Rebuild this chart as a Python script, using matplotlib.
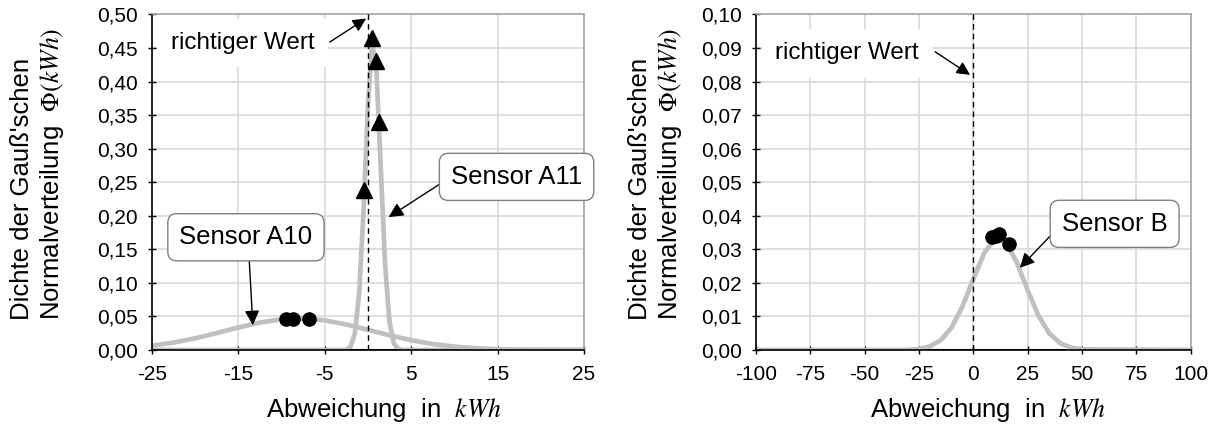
import matplotlib
matplotlib.use('Agg')
import matplotlib.pyplot as plt
from matplotlib.ticker import FuncFormatter

plt.rcParams['font.family'] = ['Liberation Sans', 'DejaVu Sans']
plt.rcParams['mathtext.fontset'] = 'stix'

# --- data ---
# Sensor A10 (left), density curve
a10_x = [-25, -22.5, -20, -17.5, -15, -12.5, -10, -7.5, -5, -2.5, 0, 2.5, 5, 7.5, 10, 12.5, 15, 17.5, 20, 25]
a10_y = [0.0064, 0.0110, 0.0173, 0.0252, 0.0335, 0.0409, 0.0457, 0.0469, 0.0442, 0.0381, 0.0302, 0.0219,
         0.0146, 0.0089, 0.0050, 0.0026, 0.0012, 0.0005, 0.0002, 0.0]
a10_pts_x = [-9.5, -8.6, -6.8]
a10_pts_y = [0.046, 0.046, 0.046]

# Sensor A11 (left), density curve
a11_x = [-25, -2.5, -2, -1.5, -1, -0.5, 0, 0.5, 1, 1.5, 2, 2.5, 3, 3.5, 4, 25]
a11_y = [0.0, 0.0, 0.005, 0.025, 0.085, 0.207, 0.363, 0.457, 0.414, 0.269, 0.126, 0.042, 0.010, 0.002, 0.0, 0.0]
a11_pts_x = [-0.4, 0.5, 0.9, 1.3]
a11_pts_y = [0.238, 0.465, 0.430, 0.340]
a11_range = [-1.9, 3.1]

# Sensor B (right), density curve
b_x = [-100, -30, -25, -20, -15, -10, -5, 0, 5, 10, 15, 20, 25, 30, 35, 40, 45, 50, 100]
b_y = [0.0, 0.0, 0.0003, 0.0011, 0.0029, 0.0067, 0.0130, 0.0212, 0.0289, 0.0332, 0.0321, 0.0261, 0.0178,
       0.0102, 0.0049, 0.0020, 0.0007, 0.0002, 0.0]
b_pts_x = [8.5, 10.2, 12.0, 16.2]
b_pts_y = [0.0336, 0.0341, 0.0346, 0.0316]
b_range = [-20, 42]

left_xticks = [-25, -15, -5, 5, 15, 25]
left_yticks = [0.0, 0.05, 0.10, 0.15, 0.20, 0.25, 0.30, 0.35, 0.40, 0.45, 0.50]
right_xticks = [-100, -75, -50, -25, 0, 25, 50, 75, 100]
right_yticks = [0.0, 0.01, 0.02, 0.03, 0.04, 0.05, 0.06, 0.07, 0.08, 0.09, 0.10]

curve_col = '#c0c0c0'
grid_col = '#d9d9d9'
frame_col = '#a6a6a6'

fig = plt.figure(figsize=(12.14, 4.36), dpi=100)
ax1 = fig.add_axes([151.7 / 1214, 86 / 436, 432.3 / 1214, 335.5 / 436])
ax2 = fig.add_axes([756 / 1214, 86 / 436, 434.7 / 1214, 335.5 / 436])

comma = FuncFormatter(lambda v, p: ('%.2f' % v).replace('.', ','))
box_style = dict(boxstyle='round,pad=0.45,rounding_size=0.35', fc='white', ec='#808080', lw=1)
arrow_style = dict(arrowstyle='-|>', color='black', lw=1, mutation_scale=22, shrinkA=0, shrinkB=0)


def style(ax, xt, yt):
    ax.set_xlim(xt[0], xt[-1])
    ax.set_ylim(yt[0], yt[-1])
    ax.set_xticks(xt)
    ax.set_yticks(yt)
    ax.yaxis.set_major_formatter(comma)
    ax.xaxis.set_major_formatter(FuncFormatter(lambda v, p: '%d' % v))
    ax.grid(True, color=grid_col, lw=1.2, zorder=0)
    ax.set_axisbelow(True)
    ax.spines['left'].set_color('black')
    ax.spines['bottom'].set_color('black')
    ax.spines['top'].set_color(frame_col)
    ax.spines['right'].set_color(frame_col)
    for s in ax.spines.values():
        s.set_linewidth(1.2)
    ax.tick_params(direction='inout', length=6, width=1, labelsize=15, colors='black')
    ax.tick_params(axis='y', pad=7)
    ax.tick_params(axis='x', pad=8)


def true_value(ax, txt_xy, start, tip):
    ax.text(txt_xy[0], txt_xy[1], 'richtiger Wert', fontsize=17.5, ha='center', va='center',
            bbox=dict(boxstyle='square,pad=0.55', fc='white', ec='none'), zorder=6)
    ax.annotate('', xy=tip, xytext=start, arrowprops=dict(arrowstyle='-|>', color='black', lw=1,
                                                          mutation_scale=20, shrinkA=0, shrinkB=0), zorder=7)


# left panel
style(ax1, left_xticks, left_yticks)
ax1.plot(a10_x, a10_y, color=curve_col, lw=3.4, zorder=2, solid_capstyle='round')
ax1.plot(a11_x, a11_y, color=curve_col, lw=3.4, zorder=2, solid_capstyle='round')
ax1.plot(a11_range, [0, 0], color='black', lw=1.5, zorder=3)
ax1.axvline(0, color='black', lw=1, ls=(0, (4, 3)), zorder=4)
ax1.plot(a11_pts_x, a11_pts_y, '^', color='black', ms=11, zorder=5)
ax1.plot(a10_pts_x, a10_pts_y, 'o', color='black', ms=9.5, zorder=5)
true_value(ax1, (-14.5, 0.4575), (-4.4, 0.459), (-0.2, 0.494))
ax1.annotate('Sensor A11', xy=(2.4, 0.198), xytext=(17.2, 0.258), fontsize=18.5, ha='center', va='center',
             bbox=box_style, arrowprops=dict(arrow_style, relpos=(0.0, 0.5)), zorder=6, annotation_clip=False)
ax1.annotate('Sensor A10', xy=(-13.3, 0.037), xytext=(-14.1, 0.168), fontsize=18.5, ha='center', va='center',
             bbox=box_style, arrowprops=dict(arrow_style, relpos=(0.52, 0.0)), zorder=6)

# right panel
style(ax2, right_xticks, right_yticks)
ax2.plot(b_x, b_y, color=curve_col, lw=3.4, zorder=2, solid_capstyle='round')
ax2.plot(b_range, [0, 0], color='black', lw=1.5, zorder=3)
ax2.axvline(0, color='black', lw=1, ls=(0, (4, 3)), zorder=4)
ax2.plot(b_pts_x, b_pts_y, 'o', color='black', ms=9.5, zorder=5)
true_value(ax2, (-58, 0.0884), (-17.6, 0.0889), (-1.5, 0.082))
ax2.annotate('Sensor B', xy=(21.4, 0.0245), xytext=(65, 0.0376), fontsize=18.5, ha='center', va='center',
             bbox=box_style, arrowprops=dict(arrow_style, relpos=(0.0, 0.5)), zorder=6)

# axis labels
ylab = "Dichte der Gauß'schen\nNormalverteilung  $\\Phi(kWh)$"
xlab = 'Abweichung  in  $kWh$'
for xpos in (38 / 1214, 656 / 1214):
    fig.text(xpos, (436 - 174) / 436, ylab, rotation=90, ha='center', va='center',
             multialignment='left', fontsize=18.5, linespacing=1.15)
fig.text(384 / 1214, (436 - 410) / 436, xlab, ha='center', va='center', fontsize=18.5)
fig.text(988 / 1214, (436 - 410) / 436, xlab, ha='center', va='center', fontsize=18.5)

fig.savefig('out.png', dpi=100)
